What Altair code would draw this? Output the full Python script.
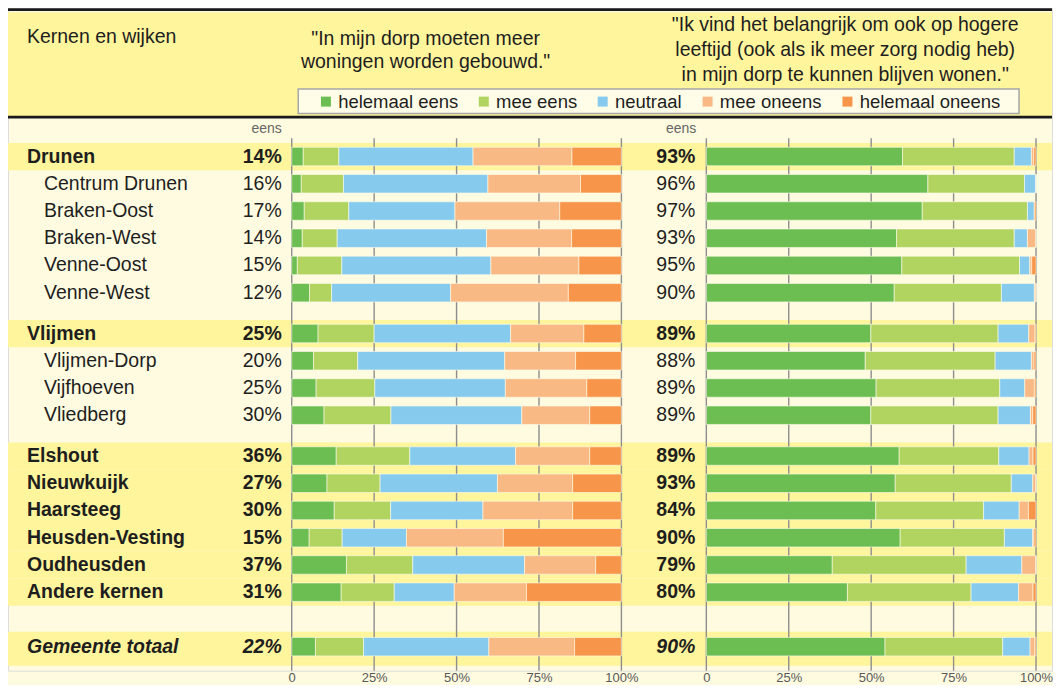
import altair as alt
import pandas as pd

# ---------------- data ----------------
names = ["Drunen", "Centrum Drunen", "Braken-Oost", "Braken-West", "Venne-Oost", "Venne-West",
         "Vlijmen", "Vlijmen-Dorp", "Vijfhoeven", "Vliedberg",
         "Elshout", "Nieuwkuijk", "Haarsteeg", "Heusden-Vesting", "Oudheusden", "Andere kernen",
         "Gemeente totaal"]
levels = ["kern", "wijk", "wijk", "wijk", "wijk", "wijk",
          "kern", "wijk", "wijk", "wijk",
          "kern", "kern", "kern", "kern", "kern", "kern",
          "totaal"]
blocks = [0, 0, 0, 0, 0, 0, 1, 1, 1, 1, 2, 2, 2, 2, 2, 2, 3]

categories = ["helemaal eens", "mee eens", "neutraal", "mee oneens", "helemaal oneens"]
colors = ["#6DBE52", "#B1D360", "#86CAEE", "#F9B984", "#F7964A"]

# "In mijn dorp moeten meer woningen worden gebouwd."
woningen_helemaal_eens = [3.5, 2.9, 3.8, 3.2, 1.7, 5.4, 8.0, 6.6, 7.4, 9.8, 13.5, 10.7, 12.9, 5.3, 16.6, 15.0, 7.2]
woningen_mee_eens = [10.8, 12.8, 13.5, 10.6, 13.5, 6.7, 17.0, 13.4, 17.8, 20.3, 22.3, 16.1, 17.1, 10.0, 20.1, 16.1, 14.6]
woningen_neutraal = [40.7, 43.8, 32.2, 45.3, 45.2, 36.1, 41.4, 44.6, 39.6, 39.7, 32.1, 35.6, 28.0, 19.5, 33.9, 18.2, 38.0]
woningen_mee_oneens = [30.0, 28.1, 31.8, 25.8, 26.7, 35.7, 22.2, 21.5, 24.7, 20.6, 22.5, 22.8, 27.2, 29.4, 21.6, 21.9, 26.0]
woningen_helemaal_oneens = [15.0, 12.4, 18.7, 15.1, 12.9, 16.1, 11.4, 13.9, 10.5, 9.6, 9.6, 14.8, 14.8, 35.8, 7.8, 28.8, 14.2]
woningen_eens_pct = [14, 16, 17, 14, 15, 12, 25, 20, 25, 30, 36, 27, 30, 15, 37, 31, 22]

# "Ik vind het belangrijk om ook op hogere leeftijd ... te kunnen blijven wonen."
blijven_helemaal_eens = [59.5, 67.2, 65.5, 57.7, 59.3, 57.0, 49.9, 48.2, 51.5, 49.9, 58.5, 57.3, 51.4, 58.8, 38.2, 42.8, 54.2]
blijven_mee_eens = [33.9, 29.3, 31.9, 35.7, 35.7, 32.5, 38.6, 39.4, 37.5, 38.6, 30.2, 35.2, 32.7, 31.6, 40.6, 37.5, 35.7]
blijven_neutraal = [5.2, 3.5, 2.1, 4.0, 3.1, 10.0, 9.3, 11.0, 7.6, 9.8, 9.2, 6.5, 10.8, 8.6, 16.9, 14.4, 8.3]
blijven_mee_oneens = [0.7, 0.0, 0.0, 2.6, 0.6, 0.5, 1.9, 0.8, 2.9, 0.7, 1.2, 1.0, 2.8, 0.4, 4.3, 4.4, 1.4]
blijven_helemaal_oneens = [0.7, 0.0, 0.5, 0.0, 1.3, 0.0, 0.3, 0.6, 0.5, 1.0, 0.9, 0.0, 2.3, 0.6, 0.0, 0.9, 0.4]
blijven_eens_pct = [93, 96, 97, 93, 95, 90, 89, 88, 89, 89, 89, 93, 84, 90, 79, 80, 90]

tick_values = [0, 25, 50, 75, 100]
header_rows = "Kernen en wijken"
header_left = ['"In mijn dorp moeten meer', 'woningen worden gebouwd."']
header_right = ['"Ik vind het belangrijk om ook op hogere',
                'leeftijd (ook als ik meer zorg nodig heb)',
                'in mijn dorp te kunnen blijven wonen."']
subhead = "eens"

# ---------------- layout helpers ----------------
W, H = 1045, 663
FONT = "Liberation Sans"
TXT = "#1E1E1E"
CREAM = "#FEFBE0"
YELLOW = "#FFF59C"

block_extra = [0.0, 0.5, 1.0, 2.0]
rows_r = [i + block_extra[b] for i, b in enumerate(blocks)]

rows = pd.DataFrame({"name": names, "level": levels, "r": rows_r,
                     "pl": [f"{v}%" for v in woningen_eens_pct],
                     "pr": [f"{v}%" for v in blijven_eens_pct]})
bands = rows[rows.level != "wijk"].copy()
bands["y0"] = [r - (0.55 if l == "totaal" else 0.5) for r, l in zip(bands.r, bands.level)]
bands["y1"] = [r + (0.7 if l == "totaal" else 0.5) for r, l in zip(bands.r, bands.level)]

panels = {
    "woningen": [woningen_helemaal_eens, woningen_mee_eens, woningen_neutraal,
                 woningen_mee_oneens, woningen_helemaal_oneens],
    "blijven": [blijven_helemaal_eens, blijven_mee_eens, blijven_neutraal,
                blijven_mee_oneens, blijven_helemaal_oneens],
}
recs = []
for p, series in panels.items():
    for k, (cat, vals) in enumerate(zip(categories, series)):
        for i, name in enumerate(names):
            recs.append({"panel": p, "name": name, "r": rows_r[i], "cat": cat, "order": k, "value": vals[i]})
long = pd.DataFrame(recs)
ticks_df = pd.DataFrame({"t": tick_values})

yscale = alt.Scale(domain=[-5.26, 18.7], reverse=True, nice=False, zero=False)
color = alt.Color("cat:N", scale=alt.Scale(domain=categories, range=colors),
                  legend=alt.Legend(title=None, orient="none", legendX=309, legendY=84,
                                    direction="horizontal", columns=5, symbolType="square",
                                    symbolSize=100, symbolStrokeWidth=0, labelFontSize=18.5,
                                    labelFont=FONT, labelColor=TXT, labelOffset=3,
                                    columnPadding=16, padding=0, labelLimit=300))


def one():
    return alt.Chart(pd.DataFrame({"d": [0]}))


def panel(p, rng):
    xs = alt.Scale(domain=[0, 100], range=rng, nice=False)
    ax = alt.Axis(values=tick_values, labelExpr="datum.value == 0 ? '0' : datum.value + '%'",
                  grid=False, domain=False, ticks=False, labelFontSize=13, labelFont=FONT,
                  labelColor="#595959", labelPadding=1, labelFlush=False, orient="bottom", title=None)
    rules = alt.Chart(ticks_df).mark_rule(color="#8E8E8E", strokeWidth=1.4).encode(
        x=alt.X("t:Q", scale=xs, axis=ax), y=alt.value(130), y2=alt.value(H))
    bars = alt.Chart(long).transform_filter(alt.datum.panel == p).transform_stack(
        stack="value", groupby=["name"], as_=["x0", "x1"],
        sort=[alt.SortField("order", order="ascending")]
    ).mark_bar(orient="horizontal", size=18.5, stroke="#FFFDEB", strokeWidth=0.6).encode(
        x=alt.X("x0:Q", scale=xs, axis=ax), x2="x1:Q",
        y=alt.Y("r:Q", scale=yscale, axis=None), color=color)
    return alt.layer(rules, bars)


header_bg = one().mark_rect(color=YELLOW).encode(
    x=alt.value(0), x2=alt.value(W), y=alt.value(3.9), y2=alt.value(107.8))
line_top = one().mark_rect(color="#1A1A1A").encode(
    x=alt.value(0), x2=alt.value(W), y=alt.value(0), y2=alt.value(2.6))
line_mid = one().mark_rect(color="#1A1A1A").encode(
    x=alt.value(0), x2=alt.value(W), y=alt.value(107.6), y2=alt.value(110.4))
legend_box = one().mark_rect(fill="#FFFDE8", stroke="#A6A6A6", strokeWidth=1.5).encode(
    x=alt.value(290.5), x2=alt.value(1012), y=alt.value(80.7), y2=alt.value(105.3))

band_layer = alt.Chart(bands).mark_rect(color=YELLOW).encode(
    x=alt.value(0), x2=alt.value(W),
    y=alt.Y("y0:Q", scale=yscale, axis=None), y2="y1:Q")

hdr = []
hdr.append(one().mark_text(text=header_rows, align="left", baseline="middle", fontSize=19.5,
                           font=FONT, color=TXT).encode(x=alt.value(19), y=alt.value(29)))
for i, line in enumerate(header_left):
    hdr.append(one().mark_text(text=line, align="center", baseline="middle", fontSize=19.5,
                               font=FONT, color=TXT).encode(x=alt.value(418), y=alt.value(30.5 + 23.5 * i)))
for i, line in enumerate(header_right):
    hdr.append(one().mark_text(text=line, align="center", baseline="middle", fontSize=19.5,
                               font=FONT, color=TXT).encode(x=alt.value(838), y=alt.value(16.7 + 24.8 * i)))
for xx in (274, 689):
    hdr.append(one().mark_text(text=subhead, align="right", baseline="middle", fontSize=14,
                               font=FONT, color="#666666").encode(x=alt.value(xx), y=alt.value(120.5)))

txt = []
styles = {"kern": ("bold", "normal", 19), "wijk": ("normal", "normal", 36), "totaal": ("bold", "italic", 19)}
for lvl, (fw, fs, lx) in styles.items():
    base = alt.Chart(rows).transform_filter(alt.datum.level == lvl)
    kw = dict(baseline="middle", fontSize=19.5, font=FONT, color=TXT, fontWeight=fw, fontStyle=fs)
    ys = alt.Y("r:Q", scale=yscale, axis=None)
    txt.append(base.mark_text(align="left", **kw).encode(x=alt.value(lx), y=ys, text="name:N"))
    txt.append(base.mark_text(align="right", **kw).encode(x=alt.value(274), y=ys, text="pl:N"))
    txt.append(base.mark_text(align="right", **kw).encode(x=alt.value(688), y=ys, text="pr:N"))

chart = alt.layer(
    header_bg, line_top, line_mid, legend_box, band_layer,
    panel("woningen", [284, 614]),
    panel("blijven", [699, 1029]),
    *hdr, *txt
).resolve_scale(x="independent").properties(
    width=W, height=H, padding=0, background=CREAM
).configure_view(stroke=None).configure(font=FONT)

chart.save("out.html", embed_options={"renderer": "svg", "actions": False})
